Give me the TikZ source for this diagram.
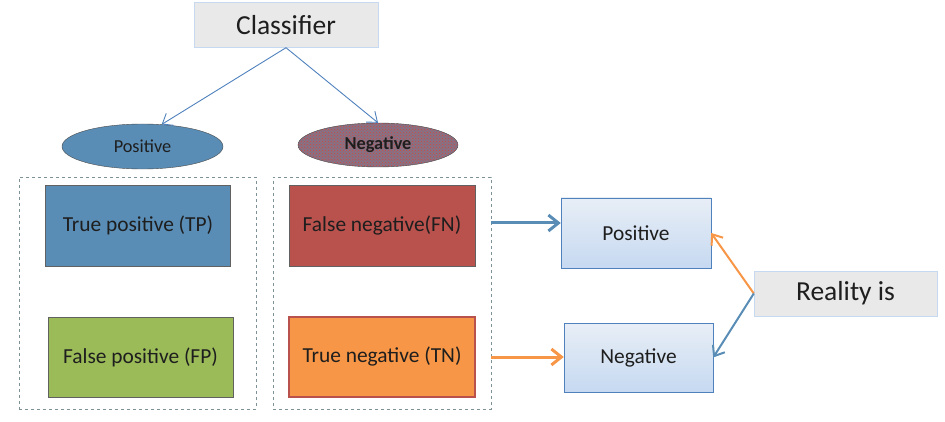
\documentclass[tikz,border=0pt]{standalone}
\usepackage{fontspec}
\setmainfont{Carlito}
\usepackage{tikz}
\usetikzlibrary{arrows.meta, positioning, shapes.geometric, patterns}
\usepackage{xcolor}

\definecolor{steel}{RGB}{90,141,181}
\definecolor{brick}{RGB}{185,81,77}
\definecolor{speck}{RGB}{215,70,60}
\definecolor{leaf}{RGB}{155,187,89}
\definecolor{tangerine}{RGB}{247,150,70}
\definecolor{pale}{RGB}{198,217,241}
\definecolor{paletop}{RGB}{232,238,246}
\definecolor{frameblue}{RGB}{79,129,189}
\definecolor{mist}{RGB}{233,233,233}
\definecolor{ink}{RGB}{30,30,30}
\definecolor{framegray}{RGB}{125,145,150}

\tikzset{
  headbox/.style={draw=pale, fill=mist, inner sep=0, text=ink,
    minimum width=184, minimum height=45, font=\fontsize{27.5}{30}\selectfont},
  classell/.style={ellipse, draw=ink!80, inner sep=0, text=ink,
    minimum width=161, minimum height=45, font=\fontsize{18.3}{20}\selectfont},
  frame/.style={draw=framegray, dashed, inner sep=0},
  cellbox/.style={draw=ink!70, inner sep=0, text=ink,
    minimum width=185, minimum height=80, font=\fontsize{21.4}{24}\selectfont},
  truthbox/.style={draw=frameblue, top color=paletop, bottom color=pale,
    inner sep=0, text=ink, minimum width=150, minimum height=70,
    font=\fontsize{21.4}{24}\selectfont},
  thinarrow/.style={draw=frameblue, line width=0.9,
    -{Straight Barb[length=9, width=14]}},
  fatarrow/.style={line width=3, -{Straight Barb[length=10, width=16]}}
}

\begin{document}
\begin{tikzpicture}[x=1pt, y=-1pt]
  \useasboundingbox (0,0) rectangle (945,422);

  \node[headbox] (clf) at (286,25) {Classifier};

  \node[classell, fill=steel] (posell) at (142.5,146.5) {Positive};
  \node[classell, minimum width=160, minimum height=44,
    preaction={fill=steel!55!brick}, pattern=crosshatch dots, pattern color=speck,
    font=\fontsize{18.3}{20}\selectfont\bfseries] (negell) at (378,145) {Negative};

  \node[frame, minimum width=237, minimum height=232] (posframe) at (137.5,293) {};
  \node[frame, minimum width=218, minimum height=232] (negframe) at (382,293) {};

  \node[cellbox, fill=steel, minimum height=81] (tp) at (138,225.5) {True positive (TP)};
  \node[cellbox, fill=leaf] (fp) at (140.5,357) {False positive (FP)};
  \node[cellbox, fill=brick, minimum width=186, minimum height=81] (fn) at (382,225.5) {False negative(FN)};
  \node[cellbox, fill=tangerine, draw=brick, line width=2, minimum width=186] (tn) at (382,357) {True negative (TN)};

  \node[truthbox] (rpos) at (636,233) {Positive};
  \node[truthbox, minimum width=149, minimum height=69] (rneg) at (638.5,357.5) {Negative};

  \node[headbox, minimum width=183] (reality) at (845.5,293.5) {Reality is};

  \draw[thinarrow] (clf.south) -- (posell.49);
  \draw[thinarrow] (clf.south) -- (negell.north);

  \draw[fatarrow, draw=steel] ([yshift=2.5]fn.east -| negframe.east) -- ([yshift=2.5]fn.east -| rpos.west);
  \draw[fatarrow, draw=tangerine] (tn.east -| negframe.east) -- (tn.east -| rneg.west);

  \draw[thinarrow, draw=tangerine, line width=2] (reality.west) -- (rpos.east);
  \draw[thinarrow, draw=steel, line width=2] (reality.west) -- (rneg.east);
\end{tikzpicture}
\end{document}
